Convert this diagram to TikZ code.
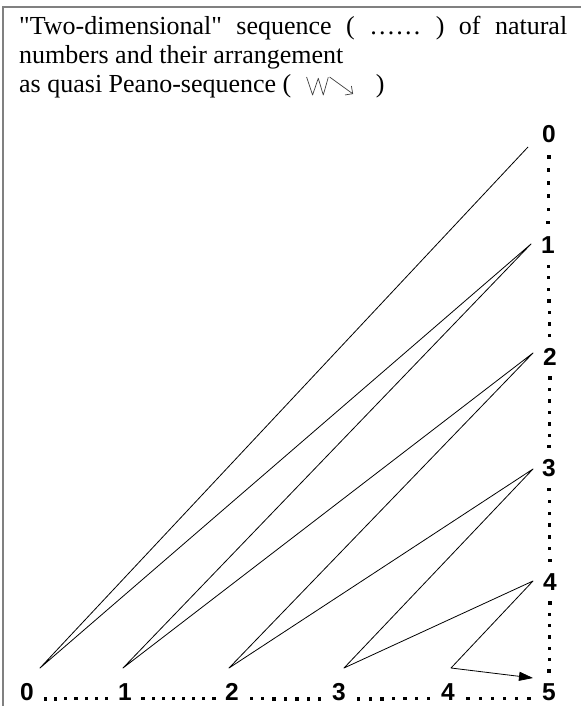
\documentclass[tikz,border=0pt]{standalone}
\usepackage{fontspec}
\newfontfamily\titlefont{Liberation Serif}
\newfontfamily\labelfont{Liberation Sans}
\usetikzlibrary{arrows.meta,calc}
\definecolor{framegray}{HTML}{808080}
\definecolor{minigray}{HTML}{404040}
\newcommand{\hdotrow}[3]{%
  \foreach \i in {1,...,#3} {%
    \fill ($(#1.south east)!{\i/(#3+1)}!(#2.south west)$) ++(0,-3) +(-1.7,-1.7) rectangle +(1.7,1.7);}}
\newcommand{\vdotrow}[3]{%
  \foreach \i in {1,...,#3} {%
    \fill ($(#1.south)!{\i/(#3+1)}!(#2.north)$) +(-1.7,-1.7) rectangle +(1.7,1.7);}}
\begin{document}
\begin{tikzpicture}[x=1pt,y=-1pt,
  frameline/.style={draw=framegray,line width=1.6pt},
  title/.style={anchor=base west,inner sep=0pt,font=\titlefont\fontsize{26}{29}\selectfont},
  lbl/.style={inner sep=1pt,font=\labelfont\bfseries\fontsize{24.5}{24.5}\selectfont},
  zig/.style={line width=0.8pt,line join=round},
  mini/.style={draw=minigray,line width=0.7pt,line join=round}]
\useasboundingbox (0,0) rectangle (581,706);
\draw[frameline] (3,706) -- (3,7) -- (581,7);
% title
\node[title] (t1) at (19,35) {\makebox[548pt][s]{"Two-dimensional" sequence ( …… ) of natural}};
\node[title] (t2) at (19,64) {numbers and their arrangement};
\node[title] (t3) at (19,93) {as quasi Peano-sequence (};
\coordinate (zs) at ([shift={(15,-16)}]t3.base east);
\draw[mini] (zs) -- ++(6,18) -- ++(5.7,-16.7) -- ++(5,16.7) -- ++(5,-17.7);
\coordinate (as) at ([shift={(38,-16)}]t3.base east);
\coordinate (ae) at ([shift={(61.5,1)}]t3.base east);
\draw[mini,-{Straight Barb[length=5.5pt,width=11pt]}] (as) -- (ae);
\node[title] (t4) at ([shift={(84,0)}]t3.base east) {)};
% labels
\node[lbl] (r0) at (549,134) {0};
\node[lbl] (r1) at (548,245) {1};
\node[lbl] (r2) at (550,357) {2};
\node[lbl] (r3) at (549,468) {3};
\node[lbl] (r4) at (550,582) {4};
\node[lbl] (b0) at (27,692) {0};
\node[lbl] (b1) at (125,692) {1};
\node[lbl] (b2) at (232,692) {2};
\node[lbl] (b3) at (339,692) {3};
\node[lbl] (b4) at (448,692) {4};
\node[lbl] (b5) at (549,692) {5};
% dotted axes
\hdotrow{b0}{b1}{7}
\hdotrow{b1}{b2}{8}
\hdotrow{b2}{b3}{7}
\hdotrow{b3}{b4}{7}
\hdotrow{b4}{b5}{6}
\vdotrow{r0}{r1}{6}
\vdotrow{r1}{r2}{7}
\vdotrow{r2}{r3}{7}
\vdotrow{r3}{r4}{7}
\vdotrow{r4}{b5}{7}
% zigzag path
\coordinate (a0) at (528,147);
\coordinate (a1) at (531,244);
\coordinate (a2) at (533,353);
\coordinate (a3) at (533,469);
\coordinate (a4) at (533,581);
\coordinate (v0) at (40,668);
\coordinate (v1) at (123,668);
\coordinate (v2) at (229,668);
\coordinate (v3) at (344,668);
\coordinate (v4) at (451,668);
\coordinate (tip) at (533,678);
\draw[zig,-{Triangle[length=14pt,width=9pt]}] (a0) -- (v0) -- (a1) -- (v1) -- (a2) -- (v2) -- (a3) -- (v3) -- (a4) -- (v4) -- (tip);
\end{tikzpicture}
\end{document}
